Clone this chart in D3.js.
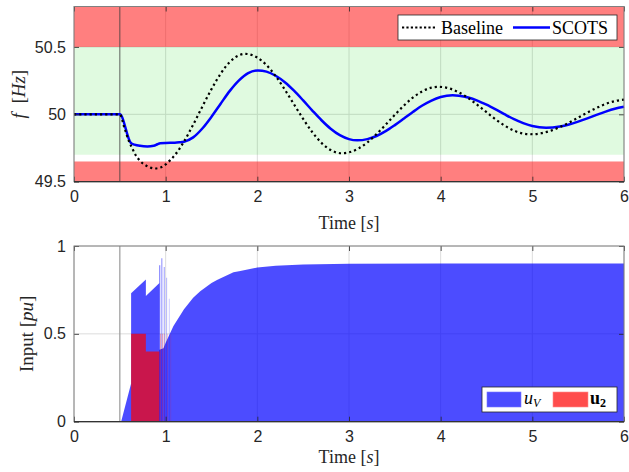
<!DOCTYPE html>
<html><head><meta charset="utf-8">
<script src="https://cdn.jsdelivr.net/npm/d3@7"></script>
<style>body{margin:0;background:#fff}svg{display:block}</style>
</head><body>
<svg id="c" width="629" height="472"></svg>
<script>
// ---------- data ----------
const xTicks = [0, 1, 2, 3, 4, 5, 6];
const freqTicks = [49.5, 50, 50.5];
const inputTicks = [0, 0.5, 1];
const eventTime = 0.5;
const safeBand = [49.7, 50.5];
const unsafeUpper = [50.5, 50.8];
const unsafeLower = [49.5, 49.65];

const timeBaseline = [0, 0.5, 0.55, 0.6, 0.63, 0.67, 0.72, 0.8, 0.88, 0.95, 1.0, 1.05, 1.1, 1.2, 1.3, 1.4, 1.5, 1.6, 1.7, 1.8, 1.87, 1.9, 2.0, 2.1, 2.2, 2.3, 2.4, 2.5, 2.6, 2.7, 2.8, 2.92, 3.0, 3.1, 3.2, 3.3, 3.4, 3.5, 3.6, 3.7, 3.8, 3.9, 3.975, 4.1, 4.2, 4.3, 4.4, 4.5, 4.6, 4.7, 4.8, 4.9, 4.98, 5.1, 5.2, 5.3, 5.4, 5.5, 5.6, 5.7, 5.8, 5.9, 6.0];
const freqBaseline = [50, 50, 49.90, 49.80, 49.755, 49.70, 49.655, 49.615, 49.598, 49.607, 49.628, 49.66, 49.697, 49.798, 49.923, 50.057, 50.187, 50.302, 50.389, 50.438, 50.449, 50.447, 50.421, 50.365, 50.283, 50.183, 50.074, 49.966, 49.867, 49.788, 49.735, 49.711, 49.718, 49.745, 49.792, 49.853, 49.923, 49.996, 50.066, 50.126, 50.171, 50.198, 50.204, 50.191, 50.162, 50.121, 50.070, 50.016, 49.962, 49.915, 49.879, 49.857, 49.852, 49.860, 49.878, 49.905, 49.938, 49.975, 50.013, 50.047, 50.077, 50.098, 50.109];

const timeScots = [0, 0.5, 0.62, 0.66, 0.72, 0.8, 0.87, 0.91, 0.94, 1.0, 1.1, 1.15, 1.2, 1.3, 1.4, 1.5, 1.6, 1.7, 1.8, 1.9, 2.007, 2.1, 2.2, 2.3, 2.4, 2.5, 2.6, 2.7, 2.8, 2.9, 3.0, 3.09, 3.2, 3.3, 3.4, 3.5, 3.6, 3.7, 3.8, 3.9, 4.0, 4.13, 4.2, 4.3, 4.4, 4.5, 4.6, 4.7, 4.8, 4.9, 5.0, 5.15, 5.3, 5.4, 5.5, 5.6, 5.7, 5.8, 5.9, 6.0];
const freqScots = [50, 50, 49.788, 49.775, 49.766, 49.762, 49.766, 49.778, 49.786, 49.788, 49.789, 49.792, 49.797, 49.829, 49.895, 49.982, 50.079, 50.174, 50.252, 50.306, 50.326, 50.317, 50.286, 50.238, 50.175, 50.103, 50.028, 49.956, 49.893, 49.845, 49.816, 49.807, 49.816, 49.839, 49.875, 49.920, 49.969, 50.019, 50.065, 50.102, 50.128, 50.141, 50.138, 50.125, 50.102, 50.071, 50.036, 49.999, 49.964, 49.935, 49.913, 49.901, 49.910, 49.925, 49.946, 49.970, 49.996, 50.020, 50.041, 50.056];

const uvTime = [0, 0.514, 0.623, 0.623, 0.784, 0.784, 0.932, 0.932, 0.976, 1.0, 1.085, 1.2, 1.3, 1.377, 1.5, 1.56, 1.6, 1.74, 1.8, 2.0, 2.2, 2.5, 3.0, 4.0, 6.0];
const uvValue = [0, 0, 0.218, 0.731, 0.81, 0.715, 0.79, 0.41, 0.418, 0.45, 0.545, 0.64, 0.705, 0.742, 0.79, 0.806, 0.817, 0.85, 0.856, 0.878, 0.888, 0.895, 0.899, 0.9, 0.9];
const uvSpikeTime = [0.935, 0.958, 0.985, 1.01, 1.04];
const uvSpikeValue = [0.89, 0.93, 0.88, 0.82, 0.70];

const u2Time = [0.623, 0.784, 0.932];
const u2Value = [0.5, 0.4, 0.4];
const u2SpikeTime = [0.945, 0.965, 0.985, 1.02, 1.055];
const u2SpikeValue = [0.5, 0.5, 0.5, 0.5, 0.5];

// ---------- layout ----------
const svg = d3.select('#c');
const x = d3.scaleLinear().domain([0, 6]).range([74, 624]);
const y1 = d3.scaleLinear().domain([49.5, 50.8]).range([181.7, 6.5]);
const y2 = d3.scaleLinear().domain([0, 1]).range([421.7, 246]);
const tickFont = '"Liberation Sans", Arial, Helvetica, sans-serif';
const serif = '"Liberation Serif", "Times New Roman", serif';
const axisCol = '#262626';

function panel(y, yTicks) {
  const g = svg.append('g');
  const [yb, yt] = y.range();
  g.append('g').selectAll('line').data(xTicks).join('line')
    .attr('x1', d => x(d)).attr('x2', d => x(d)).attr('y1', yb).attr('y2', yt)
    .attr('stroke', '#dcdcdc').attr('stroke-width', 1);
  g.append('g').selectAll('line').data(yTicks).join('line')
    .attr('x1', x(0)).attr('x2', x(6)).attr('y1', d => y(d)).attr('y2', d => y(d))
    .attr('stroke', '#dcdcdc').attr('stroke-width', 1);
  return g;
}
function axes(y, yTicks, fmt) {
  const [yb, yt] = y.range();
  const gx = svg.append('g').attr('transform', `translate(0,${yb})`)
    .call(d3.axisBottom(x).tickValues(xTicks).tickFormat(d3.format('d')).tickSize(-5).tickPadding(9));
  const gxt = svg.append('g').attr('transform', `translate(0,${yt})`)
    .call(d3.axisTop(x).tickValues(xTicks).tickFormat('').tickSize(-5));
  const gy = svg.append('g').attr('transform', `translate(${x(0)},0)`)
    .call(d3.axisLeft(y).tickValues(yTicks).tickFormat(fmt).tickSize(-5).tickPadding(8));
  const gyr = svg.append('g').attr('transform', `translate(${x(6)},0)`)
    .call(d3.axisRight(y).tickValues(yTicks).tickFormat('').tickSize(-5));
  [gx, gxt, gy, gyr].forEach(g => {
    g.select('.domain').remove();
    g.selectAll('.tick line').attr('stroke', axisCol).attr('stroke-width', 0.8);
    g.selectAll('text').attr('font-family', tickFont).attr('font-size', 16).attr('fill', axisCol);
  });
  svg.append('rect').attr('x', x(0)).attr('y', yt).attr('width', x(6) - x(0)).attr('height', yb - yt)
    .attr('fill', 'none').attr('stroke', '#808080').attr('stroke-width', 1);
  svg.append('line').attr('x1', x(0)).attr('x2', x(6)).attr('y1', yb).attr('y2', yb)
    .attr('stroke', '#333').attr('stroke-width', 1.2);
}

// ---------- top panel ----------
const gTop = panel(y1, freqTicks);
function band(g, lim, col) {
  g.append('rect').attr('x', x(0)).attr('width', x(6) - x(0))
    .attr('y', y1(lim[1])).attr('height', y1(lim[0]) - y1(lim[1])).attr('fill', col);
}
band(gTop, unsafeUpper, 'rgba(255,0,0,0.5)');
band(gTop, unsafeLower, 'rgba(255,0,0,0.5)');
band(gTop, safeBand, 'rgba(0,210,0,0.12)');
gTop.append('line').attr('x1', x(eventTime)).attr('x2', x(eventTime)).attr('y1', y1(49.5)).attr('y2', y1(50.8))
  .attr('stroke', 'rgba(60,60,60,0.8)').attr('stroke-width', 1);

const lineB = d3.line().x(d => x(d[0])).y(d => y1(d[1])).curve(d3.curveMonotoneX);
gTop.append('path').datum(d3.zip(timeScots, freqScots)).attr('d', lineB)
  .attr('fill', 'none').attr('stroke', '#0000ff').attr('stroke-width', 2.5);
gTop.append('path').datum(d3.zip(timeBaseline, freqBaseline)).attr('d', lineB)
  .attr('fill', 'none').attr('stroke', '#000').attr('stroke-width', 2.2).attr('stroke-dasharray', '2.2 3');
axes(y1, freqTicks, d => d3.format('')(d));

// top legend
const lg1 = svg.append('g');
lg1.append('rect').attr('x', 398).attr('y', 15).attr('width', 219).attr('height', 25)
  .attr('fill', '#fff').attr('stroke', '#262626').attr('stroke-width', 0.8);
lg1.append('line').attr('x1', 402).attr('x2', 437).attr('y1', 27.5).attr('y2', 27.5)
  .attr('stroke', '#000').attr('stroke-width', 2.2).attr('stroke-dasharray', '2.2 2.2');
lg1.append('text').attr('x', 441).attr('y', 33.5).text('Baseline')
  .attr('font-family', serif).attr('font-size', 18).attr('fill', '#000');
lg1.append('line').attr('x1', 513).attr('x2', 550).attr('y1', 27.5).attr('y2', 27.5)
  .attr('stroke', '#0000ff').attr('stroke-width', 2.5);
lg1.append('text').attr('x', 552).attr('y', 33.5).text('SCOTS')
  .attr('font-family', serif).attr('font-size', 18).attr('fill', '#000');

// ---------- bottom panel ----------
const gBot = panel(y2, inputTicks);
gBot.append('line').attr('x1', x(eventTime)).attr('x2', x(eventTime)).attr('y1', y2(0)).attr('y2', y2(1))
  .attr('stroke', '#9a9a9a').attr('stroke-width', 1.2);
const areaU = d3.area().x(d => x(d[0])).y0(y2(0)).y1(d => y2(d[1]));
gBot.append('path').datum(d3.zip(uvTime, uvValue)).attr('d', areaU).attr('fill', 'rgba(0,0,255,0.7)');
gBot.append('g').selectAll('line').data(d3.zip(uvSpikeTime, uvSpikeValue)).join('line')
  .attr('x1', d => x(d[0])).attr('x2', d => x(d[0])).attr('y1', y2(0)).attr('y2', d => y2(d[1]))
  .attr('stroke', (d, i) => `rgba(0,0,255,${0.5 - i * 0.08})`).attr('stroke-width', 1.1);
gBot.append('path').datum(d3.zip(u2Time, u2Value)).attr('d', areaU.curve(d3.curveStepAfter)).attr('fill', 'rgba(255,0,0,0.7)');
gBot.append('g').selectAll('line').data(d3.zip(u2SpikeTime, u2SpikeValue)).join('line')
  .attr('x1', d => x(d[0])).attr('x2', d => x(d[0])).attr('y1', y2(0)).attr('y2', d => y2(d[1]))
  .attr('stroke', (d, i) => `rgba(255,0,0,${0.4 - i * 0.06})`).attr('stroke-width', 0.8);
axes(y2, inputTicks, d => d3.format('')(d));

// bottom legend
const lg2 = svg.append('g');
lg2.append('rect').attr('x', 482).attr('y', 387).attr('width', 135).attr('height', 25)
  .attr('fill', '#fff').attr('stroke', '#262626').attr('stroke-width', 0.8);
lg2.append('rect').attr('x', 487).attr('y', 392).attr('width', 34).attr('height', 15)
  .attr('fill', 'rgba(0,0,255,0.7)').attr('stroke', 'rgba(120,120,255,1)').attr('stroke-width', 0.6);
const t1 = lg2.append('text').attr('x', 524).attr('y', 404).attr('font-family', serif).attr('fill', '#000');
t1.append('tspan').attr('font-style', 'italic').attr('font-size', 18).text('u');
t1.append('tspan').attr('font-style', 'italic').attr('font-size', 12).attr('dy', 3).text('V');
lg2.append('rect').attr('x', 553).attr('y', 392).attr('width', 35).attr('height', 15)
  .attr('fill', 'rgba(255,0,0,0.7)').attr('stroke', 'rgba(255,140,140,1)').attr('stroke-width', 0.6);
const t2 = lg2.append('text').attr('x', 590).attr('y', 404).attr('font-family', serif).attr('fill', '#000');
t2.append('tspan').attr('font-weight', 'bold').attr('font-size', 18).text('u');
t2.append('tspan').attr('font-weight', 'bold').attr('font-size', 12).attr('dy', 3).text('2');

// ---------- labels ----------
function timeLabel(yb) {
  const t = svg.append('text').attr('x', 349).attr('y', yb).attr('text-anchor', 'middle')
    .attr('font-family', serif).attr('font-size', 18).attr('fill', axisCol);
  t.append('tspan').text('Time [');
  t.append('tspan').attr('font-style', 'italic').text('s');
  t.append('tspan').text(']');
}
timeLabel(229);
timeLabel(463);

const fl = svg.append('text').attr('transform', `translate(25,${(y1(49.5) + y1(50.8)) / 2}) rotate(-90)`)
  .attr('text-anchor', 'middle').attr('font-family', serif).attr('font-size', 19).attr('fill', axisCol);
fl.append('tspan').attr('font-style', 'italic').text('f');
fl.append('tspan').text('\u2002[');
fl.append('tspan').attr('font-style', 'italic').text('Hz');
fl.append('tspan').text(']');

const il = svg.append('text').attr('transform', `translate(33,${(y2(0) + y2(1)) / 2}) rotate(-90)`)
  .attr('text-anchor', 'middle').attr('font-family', serif).attr('font-size', 19).attr('fill', axisCol);
il.append('tspan').text('Input [');
il.append('tspan').attr('font-style', 'italic').text('pu');
il.append('tspan').text(']');
</script>
</body></html>
